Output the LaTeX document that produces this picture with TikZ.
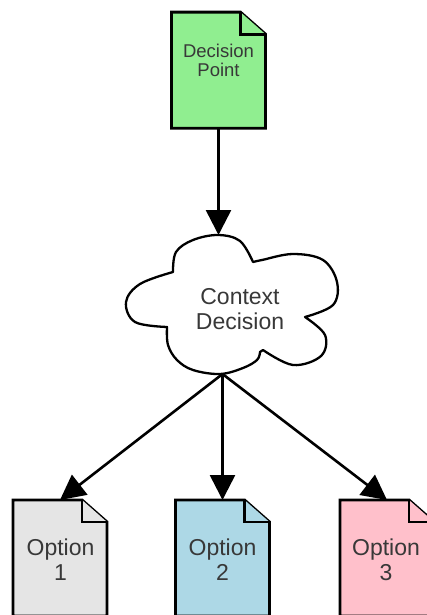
\documentclass[tikz,border=0pt]{standalone}
\usepackage{fontspec}
\setmainfont{Liberation Sans}
\usetikzlibrary{arrows.meta,calc}

\definecolor{dpgreen}{RGB}{144,238,144}
\definecolor{optgrey}{RGB}{229,229,229}
\definecolor{optblue}{RGB}{173,216,230}
\definecolor{optpink}{RGB}{255,192,203}

% dog-eared document outline around an (empty) docbox node
\newcommand\docoutline[2]{%
  \path[outline, fill=#2] (#1.north west) -- ([xshift=-25pt]#1.north east)
    -- ([yshift=-22pt]#1.north east) -- (#1.south east) -- (#1.south west) -- cycle;
  \path[outline, fill=#2] ([xshift=-25pt]#1.north east)
    -- ([xshift=-25pt,yshift=-22pt]#1.north east) -- ([yshift=-22pt]#1.north east);
}

\begin{document}
\begin{tikzpicture}[x=1pt,y=-1pt,
  docbox/.style={minimum width=94pt, minimum height=116pt, inner sep=0pt, outer sep=0pt},
  doctext/.style={align=center, text=black!78, inner sep=0pt},
  smalltext/.style={doctext, font=\fontsize{18.5}{19}\selectfont},
  bigtext/.style={doctext, font=\fontsize{23}{25}\selectfont},
  outline/.style={draw=black, line width=2.9pt, line join=miter},
  cloudline/.style={draw=black, line width=2.3pt, fill=white, line join=round},
  flow/.style={draw=black, line width=2.6pt, -{Triangle[width=25pt,length=25pt]}},
]
\useasboundingbox (0,0) rectangle (426,615);

% document shapes
\node[docbox] (dp) at (218.5,70.2) {};
\node[docbox] (o1) at (60,558) {};
\node[docbox] (o2) at (222.5,558) {};
\node[docbox] (o3) at (387,558) {};

\docoutline{dp}{dpgreen}
\docoutline{o1}{optgrey}
\docoutline{o2}{optblue}
\docoutline{o3}{optpink}

% cloud outline: smooth lobes joined at sharp notches
\path[cloudline]
  plot[smooth, tension=0.6] coordinates {(173,272) (176,252) (193,240) (218,235) (240,241) (253,262)}
  -- plot[smooth, tension=0.6] coordinates {(253,262) (262,260) (293,254) (323,260) (337,282) (333,305) (305,317)}
  -- plot[smooth, tension=0.6] coordinates {(305,317) (325,335) (321,356) (293,365) (263,350)}
  -- plot[smooth, tension=0.6] coordinates {(260,352) (257,360) (243,368) (220,374) (193,370) (177,360) (168,345) (167,327)}
  -- plot[smooth, tension=0.6] coordinates {(167,327) (135,322) (126,302) (140,284) (173,272)}
  -- cycle;
\coordinate (ctop) at (218.5,235);
\coordinate (cbot) at (222.5,374);

% labels
\node[smalltext] (dpt) at (218.5,60) {Decision\\Point};
\node[bigtext] (ctx) at (240,309) {Context\\Decision};
\node[bigtext] (o1t) at (60.5,560) {Option\\1};
\node[bigtext] (o2t) at (222.5,560) {Option\\2};
\node[bigtext] (o3t) at (386,560) {Option\\3};

% connectors
\draw[flow] (dp.south) -- (ctop);
\draw[flow] (cbot) -- (o1.north);
\draw[flow] (cbot) -- (o2.north);
\draw[flow] (cbot) -- (o3.north);
\end{tikzpicture}
\end{document}
